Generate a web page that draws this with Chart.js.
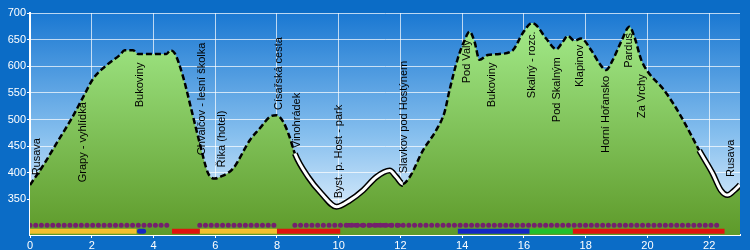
<!DOCTYPE html>
<html>
<head>
<meta charset="utf-8">
<script src="https://cdn.jsdelivr.net/npm/chart.js@4.4.1/dist/chart.umd.min.js"></script>
<style>
  body { margin: 0; background: #0b6cc6; }
  #wrap { width: 750px; height: 250px; }
</style>
</head>
<body>
<div id="wrap"><canvas id="profile" width="750" height="250"></canvas></div>
<script>
// elevation profile (km, m)
const km = [0, 0.43, 0.92, 1.35, 1.73, 2.05, 2.48, 2.91, 3.07, 3.34, 3.5, 4.42, 4.55, 4.69, 4.96, 5.23, 5.5, 5.77, 5.99, 6.15,
  6.58, 7.12, 7.44, 7.77, 7.98, 8.2, 8.41, 8.58, 9.01, 9.44, 9.93, 10.36, 10.79, 11.22, 11.65, 11.87, 12.08, 12.3, 12.73, 13.16,
  13.43, 13.59, 13.86, 14.08, 14.24, 14.4, 14.56, 14.83, 15.21, 15.64, 15.96, 16.26, 16.4, 16.72, 17.05, 17.26, 17.42, 17.64, 17.85, 18.18,
  18.45, 18.66, 18.88, 19.15, 19.42, 19.58, 19.8, 20.01, 20.5, 20.87, 21.25, 21.68, 22.11, 22.38, 22.6, 22.82, 23];
const elevation = [377, 414, 461, 502, 543, 577, 602, 621, 630, 630, 623, 623, 630, 624, 580, 518, 455, 399, 389, 392,
  408, 461, 483, 505, 508, 496, 467, 436, 392, 361, 336, 348, 367, 392, 404, 392, 379, 392, 442, 480,
  514, 555, 615, 649, 665, 646, 612, 621, 623, 630, 662, 681, 677, 652, 632, 646, 657, 648, 652, 630,
  605, 593, 612, 646, 674, 655, 612, 590, 558, 527, 489, 442, 399, 367, 358, 367, 377];

// paved road sections (km from, km to)
const roadFrom = [8.58, 21.68];
const roadTo = [12.08, 23];

// waypoints
const placeNames = ['Rusava', 'Grapy - vyhlídka', 'Bukoviny', 'Chvalčov - lesní školka', 'Říka (hotel)', 'Císařská cesta',
  'Vinohrádek', 'Byst. p. Host - park', 'Slavkov pod Hostýnem', 'Pod Valy', 'Bukoviny', 'Skalný - rozc.', 'Pod Skalným',
  'Klapinov', 'Horní Hořansko', 'Pardus', 'Za Vrchy', 'Rusava'];
const placeKm = [0.23, 1.72, 3.56, 5.57, 6.21, 8.06, 8.64, 10.0, 12.1, 14.14, 14.98, 16.25, 17.06, 17.83, 18.67, 19.39, 19.84, 22.72];

// marked trail (dotted row) and surface strips
const markFrom = [0, 5.5, 8.58];
const markTo = [4.55, 7.96, 22.42];
const markDenseFrom = [10.3];
const markDenseTo = [11.95];
const stripFrom = [0, 3.55, 4.6, 5.5, 8.0, 13.86, 16.18, 17.58];
const stripTo = [3.45, 3.68, 5.5, 8.0, 10.05, 16.18, 17.58, 22.5];
const stripKind = ['yellow', 'blue', 'red', 'yellow', 'red', 'blue', 'green', 'red'];

const xTicks = [0, 2, 4, 6, 8, 10, 12, 14, 16, 18, 20, 22];
const yTicks = [350, 400, 450, 500, 550, 600, 650, 700];

// ---- layout / styles ----
const labelBase = [395, 382, 523, 433, 410, 518, 446, 352, 399, 568, 523, 540, 495, 561, 437, 597, 503, 392];
const kindColor = { yellow: '#f2bf2e', blue: '#1428c4', red: '#e0140e', green: '#22c02a' };

const profile = km.map((x, i) => ({ x: x, y: elevation[i] }));

function onRoad(ctx) {
  const a = ctx.p0.parsed.x, b = ctx.p1.parsed.x;
  for (let i = 0; i < roadFrom.length; i++) {
    if (a >= roadFrom[i] - 0.001 && b <= roadTo[i] + 0.001) return true;
  }
  return false;
}

function greenFill(context) {
  const area = context.chart.chartArea;
  if (!area) return '#7ab848';
  const g = context.chart.ctx.createLinearGradient(0, area.top, 0, area.bottom);
  g.addColorStop(0, '#a6ee8e');
  g.addColorStop(1, '#5e9a2a');
  return g;
}

const datasets = [];
// terrain fill on its own so segment styles don't split it
datasets.push({
  data: profile,
  order: 4,
  borderWidth: 0,
  pointRadius: 0,
  cubicInterpolationMode: 'monotone',
  fill: 'start',
  backgroundColor: greenFill,
  borderColor: 'rgba(0,0,0,0)'
});
datasets.push({
  data: profile,
  order: 3,
  borderWidth: 6,
  pointRadius: 0,
  cubicInterpolationMode: 'monotone',
  fill: false,
  borderColor: 'rgba(0,0,0,0)',
  segment: { borderColor: ctx => onRoad(ctx) ? '#000' : 'rgba(0,0,0,0)' }
});
datasets.push({
  data: profile,
  order: 2,
  borderWidth: 2.5,
  pointRadius: 0,
  cubicInterpolationMode: 'monotone',
  fill: false,
  borderColor: '#000',
  segment: {
    borderColor: ctx => onRoad(ctx) ? '#fff' : '#000',
    borderDash: ctx => onRoad(ctx) ? [] : [6, 3],
    borderWidth: ctx => onRoad(ctx) ? 3 : 2.5
  }
});
markFrom.forEach((a, i) => {
  datasets.push({
    data: [{ x: a, y: 301.5 }, { x: markTo[i], y: 301.5 }],
    order: 0, borderColor: '#74206e', borderWidth: 5, borderCapStyle: 'round',
    borderDash: [0, 5.7], pointRadius: 0, fill: false
  });
});
markDenseFrom.forEach((a, i) => {
  datasets.push({
    data: [{ x: a, y: 301.5 }, { x: markDenseTo[i], y: 301.5 }],
    order: 0, borderColor: '#74206e', borderWidth: 4.5, borderCapStyle: 'round',
    borderDash: [2, 5], pointRadius: 0, fill: false
  });
});
stripFrom.forEach((a, i) => {
  datasets.push({
    data: [{ x: a, y: 290 }, { x: stripTo[i], y: 290 }],
    order: 0, borderColor: kindColor[stripKind[i]], borderWidth: 5,
    borderCapStyle: stripKind[i] === 'blue' && stripTo[i] - a < 0.3 ? 'round' : 'butt',
    pointRadius: 0, fill: false
  });
});

const backdrop = {
  id: 'backdrop',
  beforeDraw(chart) {
    const c = chart.ctx, a = chart.chartArea;
    c.save();
    c.fillStyle = '#0b6cc6';
    c.fillRect(0, 0, chart.width, chart.height);
    const g = c.createLinearGradient(0, a.top, 0, a.bottom);
    g.addColorStop(0, '#1a78d2');
    g.addColorStop(0.55, '#86bfee');
    g.addColorStop(1, '#f0f8ff');
    c.fillStyle = g;
    c.fillRect(a.left, a.top, a.right - a.left, a.bottom - a.top);
    c.restore();
  }
};

const placeLabels = {
  id: 'placeLabels',
  afterDatasetsDraw(chart) {
    const c = chart.ctx, xs = chart.scales.x, ys = chart.scales.y;
    c.save();
    c.font = '11px "Liberation Sans", Arial, sans-serif';
    c.fillStyle = '#000';
    c.textAlign = 'left';
    c.textBaseline = 'middle';
    placeNames.forEach((name, i) => {
      c.save();
      c.translate(xs.getPixelForValue(placeKm[i]), ys.getPixelForValue(labelBase[i]));
      c.rotate(-Math.PI / 2);
      c.fillText(name, 0, 0);
      c.restore();
    });
    c.restore();
  }
};

new Chart(document.getElementById('profile'), {
  type: 'line',
  data: { datasets: datasets },
  plugins: [backdrop, placeLabels],
  options: {
    responsive: false,
    animation: false,
    layout: { padding: { left: 0, right: 10, top: 13, bottom: 0 } },
    plugins: { legend: { display: false }, tooltip: { enabled: false } },
    scales: {
      x: {
        type: 'linear',
        min: 0,
        max: 23,
        afterBuildTicks: axis => { axis.ticks = xTicks.map(v => ({ value: v })); },
        afterFit: axis => { axis.height = 15; },
        grid: { color: 'rgba(255,255,255,0.7)', tickLength: 3, tickColor: '#fff' },
        border: { color: '#fff', width: 2 },
        ticks: { color: '#fff', padding: 1, maxRotation: 0, font: { size: 11, family: '"Liberation Sans", Arial, sans-serif' } }
      },
      y: {
        min: 283,
        max: 700,
        afterBuildTicks: axis => { axis.ticks = yTicks.map(v => ({ value: v })); },
        afterFit: axis => { axis.width = 30; },
        grid: { color: 'rgba(255,255,255,0.7)', tickLength: 3, tickColor: '#fff' },
        border: { color: '#fff', width: 2 },
        ticks: { color: '#fff', padding: 1, font: { size: 11, family: '"Liberation Sans", Arial, sans-serif' } }
      }
    }
  }
});
</script>
</body>
</html>
